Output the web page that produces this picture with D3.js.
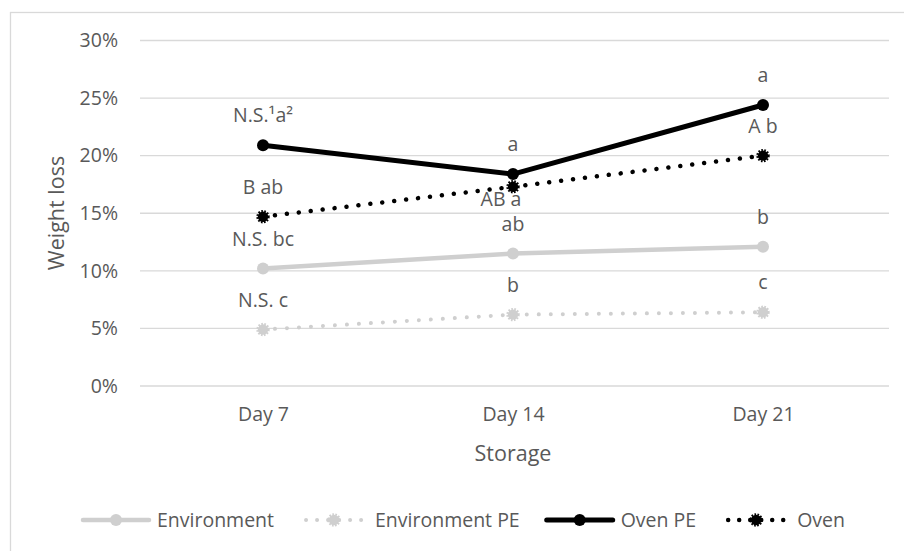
<!DOCTYPE html>
<html>
<head>
<meta charset="utf-8">
<script src="https://cdn.jsdelivr.net/npm/d3@7"></script>
<style>
  html, body { margin: 0; padding: 0; background: #fff; }
  svg { display: block; font-family: "Open Sans", sans-serif; }
</style>
</head>
<body>
<svg id="chart" width="904" height="551"></svg>
<script>
// ---- data ----
const days = ["Day 7", "Day 14", "Day 21"];
const yTicks = [0, 5, 10, 15, 20, 25, 30];
const environment   = [10.2, 11.5, 12.1];
const environmentPE = [4.9, 6.2, 6.4];
const ovenPE        = [20.9, 18.4, 24.4];
const oven          = [14.7, 17.3, 20.0];
const environmentLabels   = ["N.S. bc", "ab", "b"];
const environmentPELabels = ["N.S. c", "b", "c"];
const ovenPELabels        = ["N.S.\u00b9a\u00b2", "a", "a"];
const ovenLabels          = ["B ab", "AB a", "A b"];
const seriesNames = ["Environment", "Environment PE", "Oven PE", "Oven"];

const GRAY = "#cfcfcf", BLACK = "#000000", TEXT = "#595959", GRID = "#d9d9d9";

const series = [
  { name: seriesNames[0], values: environment,   labels: environmentLabels,   color: GRAY,  dotted: false, width: 4.5 },
  { name: seriesNames[1], values: environmentPE, labels: environmentPELabels, color: GRAY,  dotted: true,  width: 4 },
  { name: seriesNames[2], values: ovenPE,        labels: ovenPELabels,        color: BLACK, dotted: false, width: 5 },
  { name: seriesNames[3], values: oven,          labels: ovenLabels,          color: BLACK, dotted: true,  width: 4.5,
    labelPlacement: ["above", "below", "above"] }
];

const svg = d3.select("#chart");

// chart area border (extends past right / bottom edges)
svg.append("rect").attr("x", 10.5).attr("y", 12.5).attr("width", 1000).attr("height", 700)
  .attr("fill", "none").attr("stroke", GRID).attr("stroke-width", 1.3);

const x = d3.scalePoint().domain(days).range([138, 888]).padding(0.5);
const y = d3.scaleLinear().domain([0, 30]).range([386, 40.5]);

// gridlines
svg.append("g").selectAll("line").data(yTicks).join("line")
  .attr("x1", 140).attr("x2", 889)
  .attr("y1", d => y(d)).attr("y2", d => y(d))
  .attr("stroke", GRID).attr("stroke-width", 1.3);

// y axis labels
const yAxis = d3.axisLeft(y).tickValues(yTicks).tickFormat(d => d + "%").tickSize(0).tickPadding(0);
const gy = svg.append("g").attr("transform", "translate(118,0)").call(yAxis);
gy.select(".domain").remove();
gy.selectAll("text").attr("fill", TEXT).style("font-size", "19.5px").style("font-family", "'Open Sans', sans-serif");

// x axis labels
const xAxis = d3.axisBottom(x).tickSize(0).tickPadding(0);
const gx = svg.append("g").attr("transform", "translate(0,407)").call(xAxis);
gx.select(".domain").remove();
gx.selectAll("text").attr("fill", TEXT).style("font-size", "19.5px").style("font-family", "'Open Sans', sans-serif");

// axis titles
svg.append("text").attr("x", 513).attr("y", 461).attr("text-anchor", "middle")
  .attr("fill", TEXT).style("font-size", "21.5px").text("Storage");
svg.append("text").attr("transform", "translate(64,213) rotate(-90)").attr("text-anchor", "middle")
  .attr("fill", TEXT).style("font-size", "21.5px").text("Weight loss");

const line = d3.line().x((d, i) => x(days[i])).y(d => y(d));

function drawMarker(g, cx, cy, s) {
  if (s.dotted) {
    g.append("circle").attr("cx", cx).attr("cy", cy).attr("r", 5.2).attr("fill", s.color);
    g.append("circle").attr("cx", cx).attr("cy", cy).attr("r", 5.6)
      .attr("fill", "none").attr("stroke", s.color).attr("stroke-width", 2.2)
      .attr("stroke-dasharray", "1.6,1.4");
  } else {
    g.append("circle").attr("cx", cx).attr("cy", cy).attr("r", 6).attr("fill", s.color);
  }
}

function styleLine(sel, s) {
  sel.attr("fill", "none").attr("stroke", s.color).attr("stroke-width", s.width)
    .attr("stroke-linecap", "round").attr("stroke-linejoin", "round");
  if (s.dotted) sel.attr("stroke-dasharray", "0.01,12");
}

const plot = svg.append("g");
series.forEach(s => {
  const g = plot.append("g");
  styleLine(g.append("path").attr("d", line(s.values)), s);
  s.values.forEach((v, i) => drawMarker(g, x(days[i]), y(v), s));
});

// data labels
const lab = svg.append("g");
series.forEach(s => {
  s.values.forEach((v, i) => {
    const place = s.labelPlacement ? s.labelPlacement[i] : "above";
    const px = x(days[i]) + (place === "below" ? -12 : 0);
    const py = place === "below" ? y(v) + 19 : y(v) - 23;
    lab.append("text").attr("x", px).attr("y", py).attr("text-anchor", "middle")
      .attr("fill", TEXT).style("font-size", "19.5px").text(s.labels[i]);
  });
});

// legend
const leg = svg.append("g");
const lineLen = 66, gapText = 8, gapItem = 27, legY = 520;
const items = series.map(s => {
  const t = leg.append("text").attr("y", legY + 7).attr("fill", TEXT)
    .style("font-size", "19.5px").text(s.name);
  return { s, t, w: t.node().getComputedTextLength() };
});
const total = items.reduce((a, it) => a + lineLen + gapText + it.w, 0) + gapItem * (items.length - 1);
let cx = 464 - total / 2;
items.forEach(it => {
  const g = leg.append("g");
  const path = g.append("path").attr("d", `M${cx},${legY}H${cx + lineLen}`);
  styleLine(path, it.s);
  if (it.s.dotted) path.attr("stroke-dasharray", "0.01,11").attr("stroke-dashoffset", -5);
  drawMarker(g, cx + lineLen / 2, legY, it.s);
  it.t.attr("x", cx + lineLen + gapText);
  cx += lineLen + gapText + it.w + gapItem;
});
</script>
</body>
</html>
